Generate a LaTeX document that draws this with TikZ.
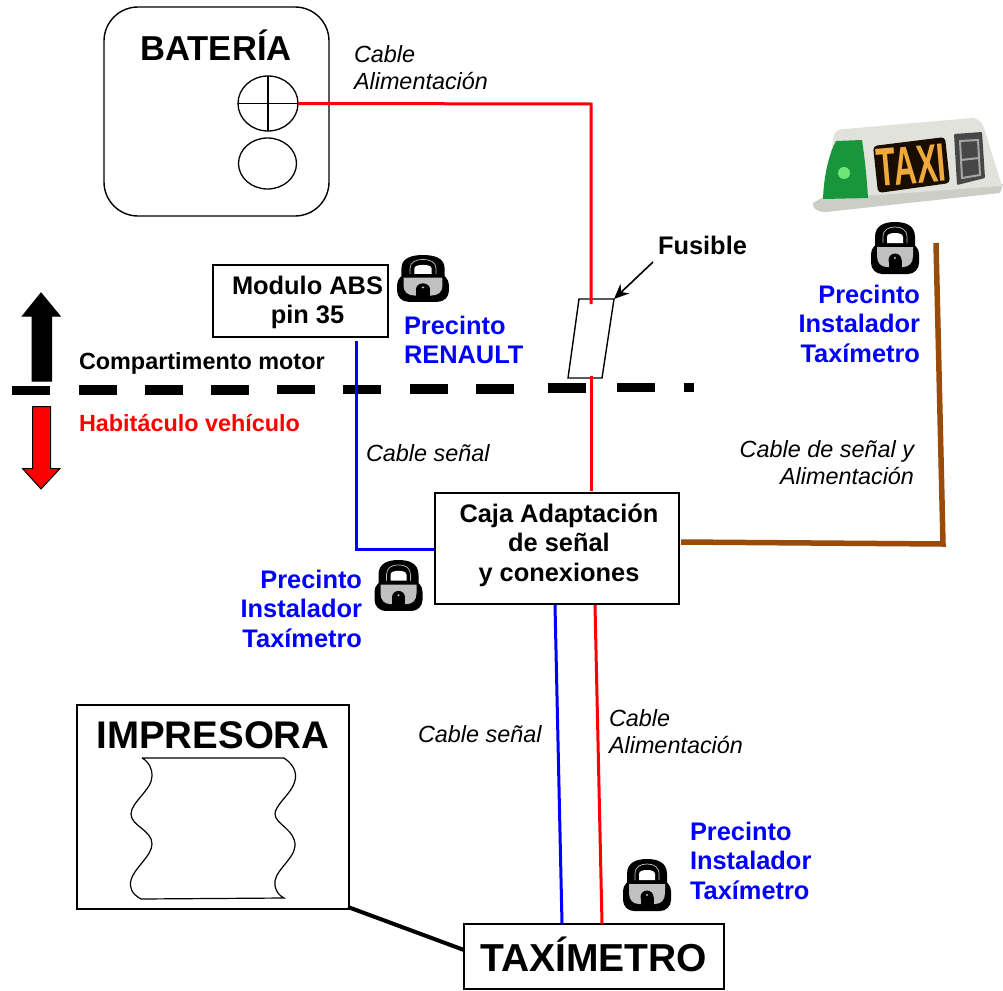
\documentclass[tikz,border=0pt]{standalone}
\usepackage{fontspec}
\setmainfont{Liberation Sans}
\usetikzlibrary{arrows.meta,shapes.geometric}
\definecolor{cablered}{RGB}{255,0,0}
\definecolor{cableblue}{RGB}{0,0,255}
\definecolor{cablebrown}{RGB}{153,76,10}
\definecolor{lockgrey}{RGB}{192,192,192}
\definecolor{taxiamber}{RGB}{238,170,60}
\definecolor{taxibody}{RGB}{226,226,220}
\definecolor{taxilip}{RGB}{205,205,200}
\definecolor{taxigreen}{RGB}{25,150,60}
\newcommand{\fs}[2]{\fontsize{#1}{#2}\selectfont}
\tikzset{
  every node/.style={inner sep=0pt,outer sep=0pt},
  box/.style={draw=black,line width=1.4pt,fill=white},
  blab/.style={font=\fs{25.4}{29.5}\bfseries,text=black,align=center},
  seal/.style={font=\fs{25.4}{29.5}\bfseries,text=cableblue,align=left},
  sealr/.style={seal,align=right},
  cablab/.style={font=\fs{23.4}{27}\itshape,text=black,align=left},
  cabr/.style={draw=cablered,line width=3pt},
  cabb/.style={draw=cableblue,line width=3pt},
  term/.style={draw=black,line width=1.3pt,ellipse,fill=white},
  pics/padlock/.style={code={
    \fill[black] (-20,24) -- (-20,15) .. controls (-20,3) and (-10,0) .. (0,0) .. controls (10,0) and (20,3) .. (20,15) -- (20,24) -- cycle;
    \fill[black,rounded corners=11pt] (-24,21) -- (24,21) -- (24,52) -- (-24,52) -- cycle;
    \draw[lockgrey,line width=0.7pt] (-12,21) -- (-12,15) .. controls (-12,8) and (-7,5) .. (0,5) .. controls (7,5) and (12,8) .. (12,15) -- (12,21);
    \fill[white] (-8,21) -- (-8,15) .. controls (-8,12) and (-4,11) .. (0,11) .. controls (4,11) and (8,12) .. (8,15) -- (8,21) -- cycle;
    \fill[lockgrey] (-18,25) -- (18,25) -- (18,34) .. controls (18,41) and (14,45) .. (8,45) -- (-8,45) .. controls (-14,45) and (-18,41) .. (-18,34) -- cycle;
    \fill[black] (0,38) circle (6.5);
    \fill[black] (-6.5,38) rectangle (6.5,47);
    \fill[lockgrey] (0,36) circle (1.2);
  }}
}
\begin{document}
\begin{tikzpicture}[x=1pt,y=-1pt]
\useasboundingbox (0,0) rectangle (1003,990);
\fill[white] (0,0) rectangle (1003,990);

% coordinates
\coordinate (redC) at (591,104);
\coordinate (fuseTop) at (591,304);
\coordinate (fuseBot) at (591,376);
\coordinate (absFree) at (356,341);
\coordinate (absBend) at (356,549);
\coordinate (taxiFree) at (936,243);
\coordinate (brownC) at (943,544);
\coordinate (fuseFree) at (653,262);
\coordinate (prnStart) at (348,907);
\coordinate (ftr) at (614,299);

% battery
\node[box,minimum width=225pt,minimum height=209pt,rounded corners=34pt,anchor=north west] (bat) at (104,7) {};
\node[font=\fs{34.6}{38}\bfseries,anchor=base] (batT) at (216,60) {BATERÍA};
\node[term,minimum width=60pt,minimum height=55pt] (pos) at (268,103.5) {};
\draw[line width=1.3pt] (pos.north) -- (pos.south) (pos.west) -- (pos.east);
\node[term,minimum width=58pt,minimum height=51pt] (neg) at (267.5,163.5) {};

% red power cable top, fuse
\draw[fill=white,line width=1.4pt] (579,299) -- (ftr) -- (602,378) -- (568,378) -- cycle;
\draw[cabr] (pos.east) -- (redC) -- (fuseTop);
\draw[-{Stealth[length=15pt,width=13pt]},line width=1.6pt] (fuseFree) -- (ftr);
\node[blab,anchor=base west] (fus) at (658,254) {Fusible};

% dashed separation
\foreach \xa/\ya in {12/390,79/389.5,145/389.5,211/389.5,277/389,343/389,410/388.5,476/388.5,548/387.5,617/387}{
  \fill[black] (\xa,\ya-4.5) rectangle (\xa+38,\ya+5);
}
\fill[black] (684,382.5) rectangle (694,392);

% up/down arrows
\draw[black,fill=black,line width=1pt] (32,381) -- (32,316) -- (22.5,316) -- (41,293) -- (60,316) -- (51.5,316) -- (51.5,381) -- cycle;
\draw[black,fill=cablered,line width=1pt] (32.5,406.5) -- (50.5,406.5) -- (50.5,468.5) -- (60,468.5) -- (41,489) -- (22.5,468.5) -- (32.5,468.5) -- cycle;
\node[font=\fs{23.4}{27}\bfseries,anchor=base west] (cm) at (79,369) {Compartimento motor};
\node[font=\fs{23.4}{27}\bfseries,text=cablered,anchor=base west] (hv) at (79,431) {Habitáculo vehículo};

% ABS
\node[box,minimum width=175pt,minimum height=72pt,anchor=north west] (abs) at (213,265) {};
\node[blab,anchor=center] (absT) at (307.5,302.5) {Modulo ABS\\pin 35};
\draw[cabb] (absFree) -- (absBend) -- (435,549);
\pic at (423,255) [xscale=1.08,yscale=0.9] {padlock};
\node[seal,anchor=north west] (s1) at (404,316) {Precinto\\RENAULT};

% adapter box
\node[box,minimum width=244pt,minimum height=111pt,anchor=north west] (caja) at (435,493) {};
\node[blab,anchor=center] (cajaT) at (559,545) {Caja Adaptación\\de señal\\y conexiones};
\draw[cabr] (fuseBot) -- (591,491);
\draw[draw=cablebrown,line width=5.5pt] (681,542) -- (brownC) -- (taxiFree);

% labels on cables
\node[cablab,anchor=north west] (l1) at (354,46) {Cable\\Alimentación};
\node[cablab,anchor=base west] (l2) at (366,461) {Cable señal};
\node[cablab,align=right,anchor=north east] (l3) at (914,441) {Cable de señal y\\Alimentación};
\node[cablab,anchor=base west] (l4) at (418,742) {Cable señal};
\node[cablab,anchor=north west] (l5) at (609,710) {Cable\\Alimentación};

% seals
\pic at (895,222) {padlock};
\node[sealr,anchor=north east] (s2) at (920,285) {Precinto\\Instalador\\Taxímetro};
\pic at (398.5,560) [yscale=0.98] {padlock};
\node[sealr,anchor=north east] (s3) at (362,570) {Precinto\\Instalador\\Taxímetro};
\pic at (647,859) {padlock};
\node[seal,anchor=north west] (s4) at (690,822) {Precinto\\Instalador\\Taxímetro};

% lower cables
\node[box,minimum width=260pt,minimum height=65pt,anchor=north west] (tax) at (464,924) {};
\node[font=\fs{39}{42}\bfseries,anchor=center] (taxT) at (593.5,954) {TAXÍMETRO};
\draw[cabb] (555,605) -- (562,924);
\draw[cabr] (595,605) -- (602,924);

% printer
\node[box,minimum width=272pt,minimum height=204pt,anchor=north west] (imp) at (77,705) {};
\node[font=\fs{38.5}{42}\bfseries,anchor=base] (impT) at (213,748) {IMPRESORA};
\draw[line width=1.2pt] (142,758) -- (284,758)
  .. controls (296,766) and (298,776) .. (293,786)
  .. controls (288,796) and (275,806) .. (275,814)
  .. controls (275,824) and (296,830) .. (295,846)
  .. controls (294,860) and (272,872) .. (275,886)
  .. controls (276,892) and (280,896) .. (284,898)
  -- (141,899)
  .. controls (132,894) and (129,888) .. (131,880)
  .. controls (134,868) and (152,856) .. (152,844)
  .. controls (152,830) and (131,826) .. (131,814)
  .. controls (131,802) and (152,790) .. (152,776)
  .. controls (152,768) and (149,762) .. (142,758);
\draw[line width=4pt] (prnStart) -- (tax.west |- 0,950);

% taxi light
\begin{scope}
  \fill[taxilip] (813,203) .. controls (812,209) and (818,212) .. (826,212) -- (1000,193) -- (1003,184) -- (825,196) -- cycle;
  \fill[taxibody] (823,199) -- (834,135) .. controls (836,130) and (840,129) .. (845,129) -- (972,118) .. controls (978,118) and (982,122) .. (984,128) -- (1002,186) -- cycle;
  \fill[taxigreen] (823,199) .. controls (824,172) and (830,152) .. (836,141) -- (862,140) .. controls (865,160) and (867,180) .. (868,198) -- cycle;
  \fill[green!45!white,opacity=.75] (844,173) circle (6);
  \fill[black!90!orange,rounded corners=4pt] (873,146) -- (945,137) -- (950,183) -- (878,193) -- cycle;
  \node[font=\fs{54}{56}\bfseries,text=taxiamber,rotate=5,xscale=0.58] (taxiT) at (911.5,165) {TAXI};
  \fill[black!72,rounded corners=1pt] (954,134) -- (982,132) -- (985,178) -- (957,185) -- cycle;
  \draw[black!35,line width=2pt] (960,141) -- (978,140) -- (980,175) -- (962,178) -- cycle (961,160) -- (979,158);
\end{scope}
\end{tikzpicture}
\end{document}
